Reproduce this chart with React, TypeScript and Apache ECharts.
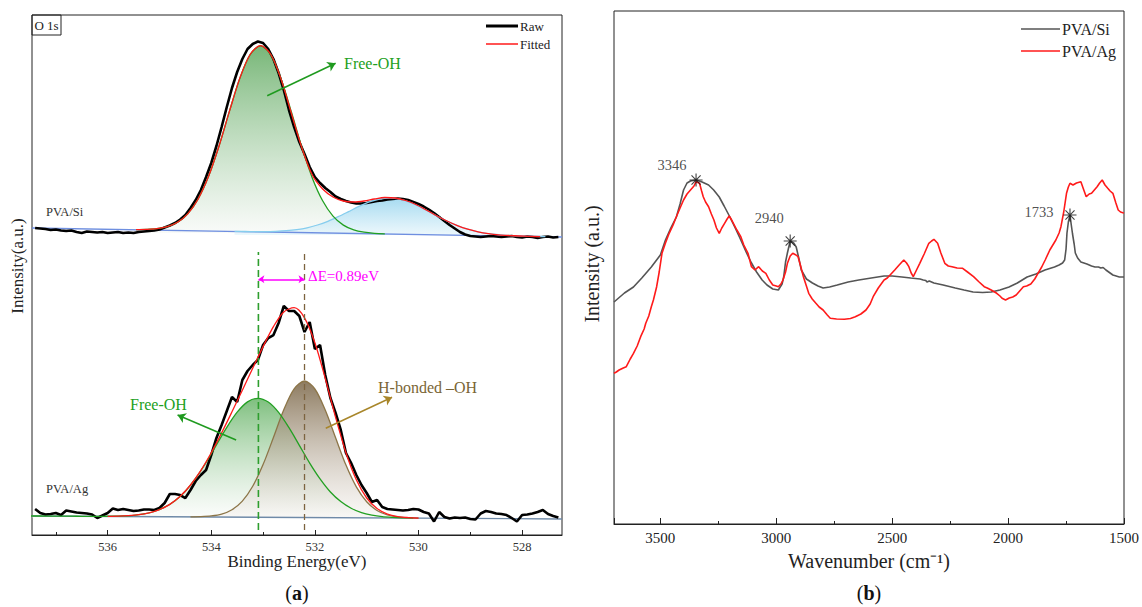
import React, { useEffect, useRef } from "react";
import * as echarts from "echarts";

const FONT = "Liberation Serif";

// ---------------- Panel (a): XPS O 1s (binding energy in eV, intensity a.u.) ----------------
const beRange = [527.23, 537.46];
const beMajorTicks = [528, 530, 532, 534, 536];
const beMinorTicks = [529, 531, 533, 535, 537];

// PVA/Si raw spectrum, 537.4 -> 527.3 eV, step 0.1
const siRawStart = 537.4;
const siRaw = [
  307, 306.5, 306, 305, 305.5, 304.5, 304, 304.5, 303, 302,
  303.5, 303, 302.5, 303, 302, 302.5, 303, 302, 302.5, 302,
  303, 303.5, 304, 304.5, 305.5, 307.5, 309.5, 312, 315.5, 320,
  327, 335, 345, 358, 372, 389, 408, 428, 447, 463,
  476, 486, 491, 493.5, 492, 486, 476, 462, 445, 425,
  408, 393, 381, 368, 358, 352, 347, 343, 338.5, 336,
  334, 332.5, 331.5, 331.5, 332, 333, 334, 334.5, 335.5, 336,
  336.5, 336, 335, 333, 331, 328.5, 325.5, 322, 318, 314,
  310, 306.5, 303, 300.5, 299, 298.5, 298, 298.5, 299, 298.5,
  298, 298.5, 299, 298, 297.5, 298.5, 298, 297, 298, 298.5,
  297.5, 298,
];
const siBaselineBE = [537.46, 527.23];
const siBaseline = [307, 298];
// Free-OH component, 535.45 -> 530.65, step 0.2
const siFreeOHStart = 535.45;
const siFreeOH = [
  305.4, 305.6, 306.3, 308.3, 312.7, 321.4, 336.3, 358.9, 389.0, 423.6,
  456.5, 480.4, 489.1, 480.1, 455.8, 422.5, 387.6, 357.1, 334.2, 318.9,
  309.9, 305.1, 302.8, 301.7, 301.2,
];
// second (low BE) component, 533.55 -> 527.55, step 0.2
const siSecondStart = 533.55;
const siSecond = [
  303.6, 303.5, 303.4, 303.4, 303.7, 304.3, 305.4, 307.2, 310.0, 313.7,
  318.3, 323.4, 328.6, 333.1, 336.0, 336.9, 335.6, 332.4, 327.6, 322.0,
  316.5, 311.6, 307.5, 304.4, 302.2, 300.8, 299.8, 299.2, 298.8, 298.6, 298.3,
];
// fitted envelope, 535.45 -> 527.65, step 0.2
const siFitStart = 535.45;
const siFit = [
  305.4, 305.6, 306.3, 308.3, 312.7, 321.4, 336.3, 358.9, 389.0, 423.6,
  456.6, 480.5, 489.4, 480.5, 455.5, 421, 387, 360, 346, 338,
  334, 333, 334, 336, 337.5, 337, 334.5, 330.5, 325, 319.2,
  314, 309.4, 305.8, 303.2, 301.4, 300.2, 299.5, 299.0, 298.6, 298.4,
];

// PVA/Ag raw spectrum, 537.4 -> 527.3 eV, step 0.1
const agRawStart = 537.4;
const agRaw = [
  26, 22, 20.5, 21, 22, 20, 24.5, 23.5, 22.5, 22,
  21.5, 20.5, 17, 19.5, 22, 26.5, 25, 26, 25, 24,
  24.5, 25.5, 25.5, 25, 27, 32, 41, 41, 40, 37,
  45, 54, 60, 65, 80, 97, 110, 124, 138, 133,
  155, 164, 170, 175, 190, 197, 200, 212, 229, 224,
  224, 219, 203, 213, 186, 190, 160, 137, 122, 105,
  82, 72, 60, 50, 42, 33, 35, 28, 26, 25.5,
  25, 24.5, 25, 26, 25.5, 23, 21.5, 13.5, 23, 18,
  16.5, 17.5, 17, 17.5, 16, 15.5, 21.5, 24, 23, 21.5,
  21, 20, 17, 13.5, 20, 20.5, 21.5, 23, 25, 21,
  19, 17.5,
];
const agBaselineBE = [537.46, 527.23];
const agBaseline = [19, 16];
// Free-OH component, 537.5 -> 530.1, step 0.2
const agFreeOHStart = 537.5;
const agFreeOH = [
  19.0, 19.0, 18.9, 18.8, 18.8, 18.7, 18.7, 18.7, 18.8, 19.1,
  19.7, 21.1, 23.5, 27.8, 34.3, 43.8, 56.8, 72.5, 90.2, 107.7,
  122.8, 133.1, 136.7, 133.0, 122.6, 107.3, 89.7, 71.9, 56.1, 43.0,
  33.4, 26.7, 22.3, 19.8, 18.3, 17.6, 17.2, 16.9,
];
// H-bonded -OH component, 534.4 -> 530.0, step 0.2
const agHbondStart = 534.4;
const agHbond = [
  18.2, 18.4, 19.1, 20.9, 25.3, 33.9, 48.7, 70.4, 97.5, 125.2,
  146.1, 154.0, 146.0, 124.9, 97.2, 69.9, 48.1, 33.2, 24.5, 20.0,
  18.0, 17.3, 16.9,
];
// fitted envelope, 536.0 -> 530.0, step 0.2
const agFitStart = 536.0;
const agFit = [
  18.7, 18.9, 19.4, 20.3, 22.1, 25.4, 30.6, 38.7, 50.0, 64.7,
  82.3, 102.1, 123.2, 144.8, 166.7, 188.4, 208.4, 223.1, 227.3, 217.2,
  192.3, 156.7, 117.7, 82.3, 55.2, 37.0, 26.4, 20.9, 18.4, 17.4, 16.9,
];
const freeOHPeakBE = 533.09;
const hbondPeakBE = 532.2;
const peakGuideRange = [5, 283];
const deltaLevel = 255.7;

// ---------------- Panel (b): FTIR ----------------
const waveRange = [1500, 3700];
const ftirSi = [
  [3700, 222], [3655, 231], [3616, 237], [3580, 246], [3539, 257], [3500, 269], [3478, 284],
  [3455, 296], [3431, 307], [3415, 320], [3400, 334], [3385, 341], [3370, 343], [3346, 344],
  [3320, 342], [3292, 339], [3270, 334], [3246, 327], [3225, 318], [3200, 307], [3175, 295],
  [3153, 284], [3130, 272], [3107, 261], [3085, 252], [3061, 244], [3040, 239], [3015, 235],
  [2991, 234], [2975, 240], [2968, 247], [2960, 262], [2952, 271], [2940, 283], [2925, 281],
  [2914, 277], [2903, 266], [2892, 254], [2870, 245], [2844, 241], [2820, 238], [2798, 236],
  [2770, 237], [2737, 239], [2690, 242], [2644, 244], [2590, 246], [2535, 248], [2500, 248],
  [2458, 247], [2420, 246], [2380, 245], [2366, 244], [2355, 243.5], [2350, 242], [2340, 243],
  [2320, 241], [2280, 239], [2228, 236], [2190, 234], [2151, 232], [2110, 231.5], [2073, 232],
  [2035, 234], [1996, 237], [1960, 241], [1918, 247], [1880, 250], [1841, 254], [1800, 257],
  [1780, 259], [1765, 261], [1756, 264], [1750, 275], [1746, 291], [1740, 302], [1733, 309],
  [1728, 300], [1722, 290], [1715, 280], [1710, 271], [1700, 266], [1686, 262], [1660, 260],
  [1640, 258], [1625, 257], [1610, 257], [1600, 256], [1590, 256.5], [1578, 254], [1560, 251],
  [1548, 249], [1520, 247], [1500, 247],
];
const ftirAg = [
  [3700, 150.7], [3690, 152], [3678, 154], [3660, 156], [3647, 157.3], [3630, 165], [3616, 170.7],
  [3600, 178], [3585, 187.3], [3570, 195], [3563, 200.7], [3550, 208], [3539, 217.3], [3530, 224],
  [3516, 237.3], [3505, 252], [3493, 270.7], [3478, 281], [3462, 290.7], [3445, 299], [3431, 307.3],
  [3415, 316], [3400, 324], [3385, 330], [3370, 334], [3355, 338], [3346, 342.3], [3331, 340.7],
  [3322, 333], [3315, 327.3], [3305, 322], [3292, 317.3], [3280, 310], [3269, 304], [3258, 296],
  [3246, 290.7], [3235, 296], [3223, 300.7], [3212, 305], [3203, 308], [3195, 305], [3185, 300.7],
  [3170, 294], [3153, 287.3], [3140, 279], [3122, 270.7], [3107, 257.3], [3092, 254], [3076, 257.3],
  [3060, 253], [3045, 250.7], [3030, 244], [3015, 239], [3000, 238], [2991, 237.3], [2980, 240],
  [2971, 244], [2960, 252], [2952, 260.7], [2940, 268], [2929, 270.7], [2915, 269], [2906, 267.3],
  [2895, 258], [2883, 247.3], [2870, 238], [2860, 230.7], [2845, 225], [2829, 220.7], [2815, 217],
  [2798, 214], [2780, 209], [2767, 205.7], [2740, 205], [2706, 204.7], [2680, 205.5], [2659, 207.3],
  [2635, 210], [2613, 214], [2595, 220], [2582, 227.3], [2560, 236], [2535, 244], [2521, 246],
  [2505, 250], [2489, 254], [2470, 259], [2450, 264], [2438, 261], [2428, 257.3], [2418, 251],
  [2409, 247.3], [2395, 254], [2381, 260.7], [2362, 270], [2342, 280.7], [2330, 283], [2320, 284.7],
  [2304, 280.7], [2290, 271], [2273, 260.7], [2258, 258], [2242, 257.3], [2220, 256], [2196, 255.7],
  [2175, 252], [2149, 247.3], [2125, 242], [2103, 237.3], [2090, 236], [2073, 234], [2049, 230.7],
  [2035, 228], [2026, 225.7], [2011, 224], [1995, 226], [1980, 227], [1965, 229], [1950, 233],
  [1934, 237.3], [1920, 238], [1902, 240], [1885, 245], [1871, 250.7], [1855, 257], [1840, 264],
  [1820, 274], [1794, 284], [1780, 291], [1772, 297.3], [1760, 312], [1748, 330.7], [1740, 337],
  [1733, 340.7], [1720, 339], [1705, 341], [1686, 342.3], [1675, 335], [1663, 327.3], [1650, 330],
  [1640, 330.7], [1628, 334], [1616, 337.3], [1605, 341], [1594, 344], [1582, 339], [1570, 335.7],
  [1560, 333], [1548, 330.7], [1535, 321], [1525, 314], [1515, 312], [1505, 311.3], [1500, 311],
];
const peakWaves = [3346, 2940, 1733];
const peakValues = [344, 283, 309];
const peakLabelOffsets = [[-24, -15], [-21, -23], [-31, -3]];

const seq = (start: number, step: number, vals: number[]) =>
  vals.map((v, i) => [Math.round((start - i * step) * 100) / 100, v]);
const pairs = (xs: number[], ys: number[]) => xs.map((x, i) => [x, ys[i]]);

const grad = (top: string, bottom: string) =>
  new echarts.graphic.LinearGradient(0, 0, 0, 1, [
    { offset: 0, color: top },
    { offset: 1, color: bottom },
  ]);

function lineA(data: any, color: string, width: number, extra: any = {}) {
  return {
    type: "line", xAxisIndex: 0, yAxisIndex: 0, data, symbol: "none", showSymbol: false,
    silent: true, lineStyle: { color, width }, emphasis: { disabled: true }, ...extra,
  };
}
function fillA(data: any, top: string, bottom: string, origin: number) {
  return lineA(data, "transparent", 0, {
    smooth: 0.3,
    areaStyle: { color: grad(top, bottom), origin, opacity: 1 },
  });
}
function arrowA(from: number[], to: number[], color: string, both = false, size = 8) {
  return lineA([], color, 0, {
    markLine: {
      silent: true, animation: false, symbol: both ? ["arrow", "arrow"] : ["none", "arrow"],
      symbolSize: size, label: { show: false }, emphasis: { disabled: true },
      lineStyle: { color, width: 1.5, type: "solid" },
      data: [[{ coord: from }, { coord: to }]],
    },
  });
}

function txt(x: number, y: number, text: string, size: number, color = "#222", align = "left", extra: any = {}) {
  return {
    type: "text", x, y, silent: true, z: 100,
    style: {
      text, fill: color, font: `${size}px ${FONT}`, fontSize: size, fontFamily: FONT,
      align, verticalAlign: "middle", textAlign: align, textVerticalAlign: "middle",
    },
    ...extra,
  };
}
function seg(x1: number, y1: number, x2: number, y2: number, color: string, w: number) {
  return { type: "line", silent: true, z: 100, shape: { x1, y1, x2, y2 }, style: { stroke: color, lineWidth: w } };
}

export default function App() {
  const ref = useRef<HTMLDivElement>(null);
  useEffect(() => {
    if (!ref.current) return;
    const chart = echarts.init(ref.current, undefined, { renderer: "svg" });
    const green = "#22a022";
    const option: any = {
      animation: false,
      backgroundColor: "#ffffff",
      textStyle: { fontFamily: FONT },
      grid: [
        { left: 32, top: 15, width: 530, height: 520, show: true, borderColor: "#222", borderWidth: 1, backgroundColor: "transparent" },
        { left: 614, top: 11, width: 511, height: 513, show: true, borderColor: "#222", borderWidth: 1, backgroundColor: "transparent" },
      ],
      xAxis: [
        {
          type: "value", gridIndex: 0, inverse: true, min: beRange[0], max: beRange[1], position: "bottom",
          axisLine: { show: true, lineStyle: { color: "#222", width: 1 } },
          axisTick: { show: true, inside: true, length: 5, customValues: beMajorTicks, lineStyle: { color: "#222" } },
          axisLabel: { show: true, customValues: beMajorTicks, fontSize: 12.5, color: "#333", margin: 5, fontFamily: FONT },
          splitLine: { show: false },
        },
        {
          type: "value", gridIndex: 0, inverse: true, min: beRange[0], max: beRange[1], position: "bottom",
          axisLine: { show: false },
          axisTick: { show: true, inside: true, length: 3, customValues: beMinorTicks, lineStyle: { color: "#222" } },
          axisLabel: { show: false },
          splitLine: { show: false },
        },
        {
          type: "value", gridIndex: 1, inverse: true, min: waveRange[0], max: waveRange[1], interval: 500,
          axisLine: { show: true, lineStyle: { color: "#222", width: 1 } },
          axisTick: { show: true, inside: true, length: 6, lineStyle: { color: "#222" } },
          minorTick: { show: true, splitNumber: 2, length: 3, lineStyle: { color: "#222" } },
          axisLabel: {
            fontSize: 15, color: "#222", margin: 6, fontFamily: FONT, showMinLabel: true, showMaxLabel: false,
            formatter: (v: number) => String(v),
          },
          splitLine: { show: false },
        },
      ],
      yAxis: [
        { type: "value", gridIndex: 0, min: 0, max: 520, show: false },
        { type: "value", gridIndex: 1, min: 0, max: 513, show: false },
      ],
      series: [
        // fills
        fillA(seq(siFreeOHStart, 0.2, siFreeOH), "rgba(96,170,96,0.85)", "rgba(245,248,245,0.6)", 302),
        fillA(seq(siSecondStart, 0.2, siSecond), "rgba(150,212,238,0.85)", "rgba(232,246,251,0.7)", 300),
        fillA(seq(agFreeOHStart, 0.2, agFreeOH), "rgba(104,180,104,0.85)", "rgba(248,250,248,0.5)", 17.5),
        fillA(seq(agHbondStart, 0.2, agHbond), "rgba(128,108,78,0.9)", "rgba(246,243,240,0.5)", 17.5),
        // baselines
        lineA(pairs(siBaselineBE, siBaseline), "#6f8fe0", 1.3),
        lineA(pairs(agBaselineBE, agBaseline), "#6f8aa8", 1.3),
        // raw
        lineA(seq(siRawStart, 0.1, siRaw), "#000000", 2.6),
        lineA(seq(agRawStart, 0.1, agRaw), "#000000", 2.6),
        // component lines
        lineA(seq(siSecondStart, 0.2, siSecond), "#86cdee", 1.3, { smooth: 0.3 }),
        lineA(seq(agHbondStart, 0.2, agHbond), "#8c7548", 1.3, { smooth: 0.3 }),
        lineA(seq(siFreeOHStart, 0.2, siFreeOH), green, 1.3, { smooth: 0.3 }),
        lineA(seq(agFreeOHStart, 0.2, agFreeOH), green, 1.3, { smooth: 0.3 }),
        // fits
        lineA(seq(siFitStart, 0.2, siFit), "#ff1a1a", 1.3, { smooth: 0.3 }),
        lineA(seq(agFitStart, 0.2, agFit), "#ff1a1a", 1.3, { smooth: 0.3 }),
        // peak guides
        lineA([[freeOHPeakBE, peakGuideRange[0]], [freeOHPeakBE, peakGuideRange[1]]], "#2e9e2e", 1.6, {
          lineStyle: { color: "#2e9e2e", width: 1.6, type: [7, 4] },
        }),
        lineA([[hbondPeakBE, peakGuideRange[0]], [hbondPeakBE, peakGuideRange[1]]], "#7d6440", 1.3, {
          lineStyle: { color: "#7d6440", width: 1.3, type: [6, 4] },
        }),
        arrowA([freeOHPeakBE, deltaLevel], [hbondPeakBE, deltaLevel], "#ff00ff", true, 6),
        arrowA([532.92, 439.3], [531.6, 471.7], "#1f9a1f", false, 8),
        arrowA([533.52, 95], [534.65, 120], "#1f9a1f", false, 8),
        arrowA([531.79, 106.7], [530.51, 137.7], "#a8862a", false, 8),
        // panel (b)
        {
          type: "line", xAxisIndex: 2, yAxisIndex: 1, data: ftirSi, symbol: "none", silent: true,
          lineStyle: { color: "#555555", width: 1.6 },
        },
        {
          type: "line", xAxisIndex: 2, yAxisIndex: 1, data: ftirAg, symbol: "none", silent: true,
          lineStyle: { color: "#ff1a1a", width: 1.6 },
        },
        {
          type: "scatter", xAxisIndex: 2, yAxisIndex: 1, silent: true, z: 5,
          symbol: "path://M10 0 L10 20 M0 10 L20 10 M3 3 L17 17 M3 17 L17 3",
          symbolSize: 13,
          itemStyle: { color: "rgba(0,0,0,0)", borderColor: "#111", borderWidth: 1.1 },
          data: peakWaves.map((w, i) => ({
            value: [w, peakValues[i]],
            label: {
              show: true, position: "inside", offset: peakLabelOffsets[i], formatter: String(w),
              fontSize: 14.5, color: "#222", fontFamily: FONT,
            },
          })),
        },
      ],
      graphic: [
        // panel (a) decorations
        { type: "rect", silent: true, z: 100, shape: { x: 32, y: 15, width: 29, height: 20 }, style: { fill: "none", stroke: "#222", lineWidth: 1 } },
        txt(46.5, 25.5, "O 1s", 13, "#222", "center"),
        seg(486, 26, 518, 26, "#000", 3),
        txt(520, 26, "Raw", 13),
        seg(486, 44, 518, 44, "#ff1a1a", 1.5),
        txt(520, 44, "Fitted", 13),
        txt(344, 63.5, "Free-OH", 16, "#22a022"),
        txt(46, 212, "PVA/Si", 12.5, "#333"),
        txt(308, 276, "ΔE=0.89eV", 15, "#ff00ff"),
        txt(130, 404, "Free-OH", 16, "#22a022"),
        txt(378, 387, "H-bonded –OH", 16, "#7a6535"),
        txt(46, 489, "PVA/Ag", 12.5, "#333"),
        txt(17, 266, "Intensity(a.u.)", 17, "#222", "center", { rotation: Math.PI / 2 }),
        txt(297, 561, "Binding Energy(eV)", 17, "#222", "center"),
        {
          type: "text", x: 297, y: 593, silent: true, z: 100,
          style: {
            text: "({b|a})", fill: "#111", font: `20px ${FONT}`, fontSize: 20, fontFamily: FONT, align: "center", verticalAlign: "middle",
            textAlign: "center", textVerticalAlign: "middle",
            rich: { b: { fontWeight: "bold", fontSize: 20, fontFamily: FONT, fill: "#111" } },
          },
        },
        // panel (b) decorations
        seg(1021, 29, 1060, 29, "#555", 1.6),
        txt(1062, 29, "PVA/Si", 16),
        seg(1021, 51, 1060, 51, "#ff1a1a", 1.6),
        txt(1062, 51, "PVA/Ag", 16),
        txt(592, 264, "Intensity (a.u.)", 20, "#222", "center", { rotation: Math.PI / 2 }),
        txt(869, 561, "Wavenumber (cm⁻¹)", 20, "#222", "center"),
        {
          type: "text", x: 869, y: 593, silent: true, z: 100,
          style: {
            text: "({b|b})", fill: "#111", font: `20px ${FONT}`, fontSize: 20, fontFamily: FONT, align: "center", verticalAlign: "middle",
            textAlign: "center", textVerticalAlign: "middle",
            rich: { b: { fontWeight: "bold", fontSize: 20, fontFamily: FONT, fill: "#111" } },
          },
        },
      ],
    };
    chart.setOption(option);
    return () => chart.dispose();
  }, []);
  return (
    <div
      ref={ref}
      style={{ position: "fixed", left: 0, top: 0, width: 1142, height: 607, background: "#fff" }}
    />
  );
}
